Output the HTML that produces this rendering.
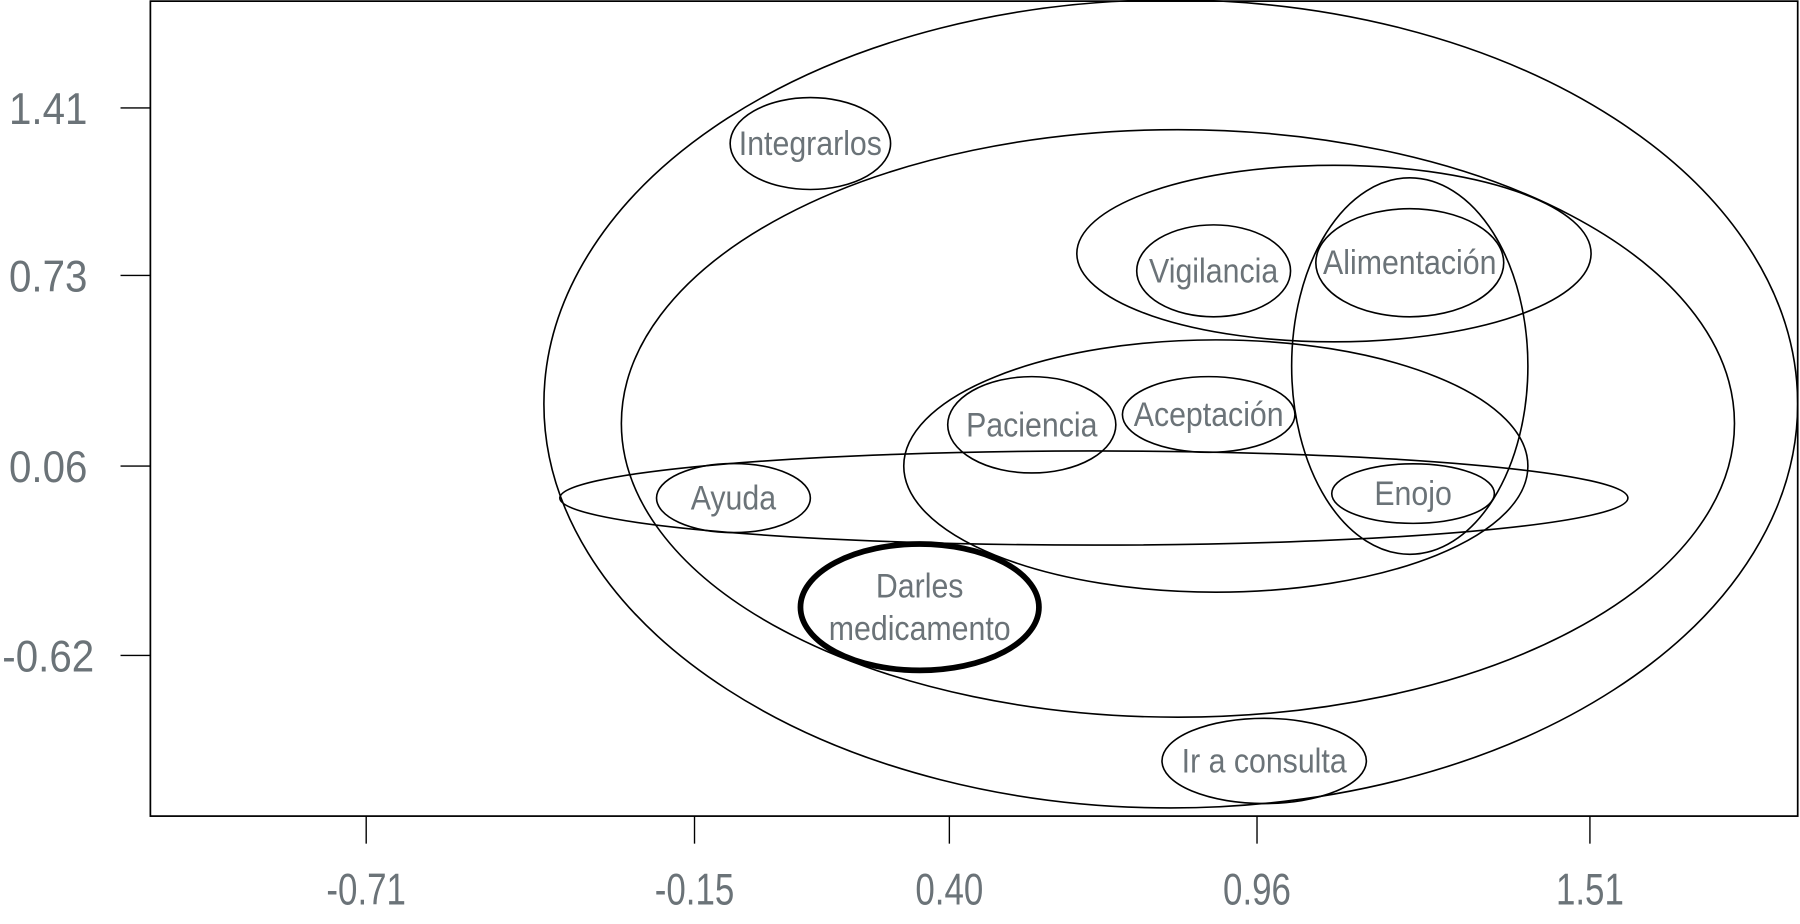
<!DOCTYPE html>
<html><head><meta charset="utf-8"><style>
html,body{margin:0;padding:0;background:#fff;}
svg{display:block;}
text{font-family:"Liberation Sans Narrow","Liberation Sans",sans-serif;fill:#6b7378;}
</style></head><body>
<svg id="chart" width="1800" height="924" viewBox="0 0 1568 805" preserveAspectRatio="none" xmlns="http://www.w3.org/2000/svg">
<rect x="131" y="1" width="1435" height="710" fill="none" stroke="#000" stroke-width="1.5"/>
<g id="axes"></g>
<g id="marks"></g>
</svg>
<script>
const xTicks=[-0.71,-0.15,0.40,0.96,1.51];
const yTicks=[1.41,0.73,0.06,-0.62];
const labels=["","","","","","","Integrarlos","Vigilancia","Alimentación","Paciencia","Aceptación","Ayuda","Enojo","Darles|medicamento","Ir a consulta"];
const cxs=[0.803,0.816,1.100,1.238,0.885,0.663,0.147,0.881,1.238,0.550,0.872,0.007,1.244,0.346,0.973];
const cys=[0.283,0.213,0.823,0.419,0.060,-0.055,1.218,0.761,0.790,0.208,0.245,-0.055,-0.039,-0.447,-0.999];
const rxs=[1.141,1.013,0.468,0.215,0.568,0.972,0.146,0.140,0.171,0.153,0.157,0.140,0.148,0.217,0.186];
const rys=[1.451,1.055,0.317,0.676,0.453,0.169,0.165,0.165,0.194,0.173,0.136,0.124,0.107,0.227,0.153];
const thick=[0,0,0,0,0,0,0,0,0,0,0,0,0,1,0];

const NS="http://www.w3.org/2000/svg";
function xs(v){return 827+(v-0.40)*478.6;}
function ys(v){return 406-(v-0.06)*242.6;}
function xTickPos(i){return [319,605,827,1095,1385][i];}
function yTickPos(i){return [94,240,406,571][i];}
function mk(t,a,p){const e=document.createElementNS(NS,t);for(const k in a)e.setAttribute(k,a[k]);p.appendChild(e);return e;}
function squeeze(e,x,s){e.setAttribute('transform','translate('+x+',0) scale('+s+',1) translate('+(-x)+',0)');}
const axes=document.getElementById('axes');
const marks=document.getElementById('marks');
xTicks.forEach((v,i)=>{
  const x=xTickPos(i);
  const l=mk('line',{x1:x,x2:x,y1:711,y2:735,stroke:'#000','stroke-width':1.2},axes);
  
  
  const t=mk('text',{x:x,y:788,'text-anchor':'middle','font-size':39},axes);
  t.textContent=v.toFixed(2);
  squeeze(t,x,0.78);
  
  
});
yTicks.forEach((v,i)=>{
  const y=yTickPos(i);
  const l=mk('line',{x1:105,x2:131,y1:y,y2:y,stroke:'#000','stroke-width':1.2},axes);
  
  
  const t=mk('text',{x:42,y:y+14,'text-anchor':'middle','font-size':39},axes);
  t.textContent=v.toFixed(2);
  squeeze(t,42,0.9);
  
  
});
cxs.forEach((cx,i)=>{
  const e=mk('ellipse',{cx:xs(cx),cy:ys(cys[i]),rx:rxs[i]*478.6,ry:rys[i]*242.6,fill:'none',stroke:'#000','stroke-width':thick[i]?5:1.4},marks);
  
  
  if(labels[i]){
    const parts=labels[i].split('|');
    parts.forEach((p,j)=>{
      const off=(j-(parts.length-1)/2)*37;
      const x=xs(cx);
      const t=mk('text',{x:x,y:ys(cys[i])+off+10,'text-anchor':'middle','font-size':30},marks);
      t.textContent=p;
      squeeze(t,x,0.88);
      
      
    });
  }
});
</script>
</body></html>
